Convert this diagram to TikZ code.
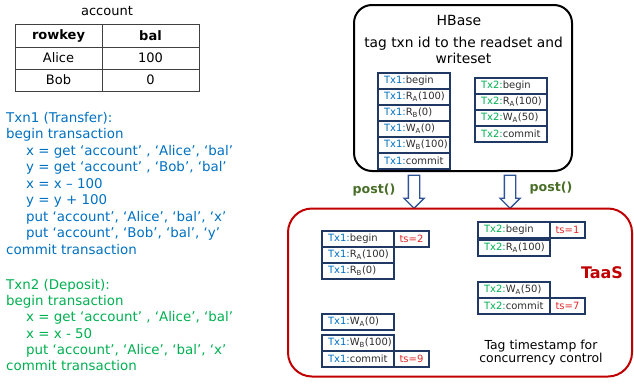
\documentclass[tikz,border=0pt]{standalone}
\usepackage{fontspec}
\setmainfont{DejaVu Sans}
\usetikzlibrary{positioning,shapes.arrows}

\definecolor{txnblue}{RGB}{0,112,192}
\definecolor{txngreen}{RGB}{0,176,80}
\definecolor{boxnavy}{RGB}{31,56,100}
\definecolor{tsred}{RGB}{224,40,40}
\definecolor{taasred}{RGB}{192,0,0}
\definecolor{postgreen}{RGB}{72,110,40}
\definecolor{arrowblue}{RGB}{47,85,151}
\definecolor{opgray}{RGB}{45,45,45}

\newcommand{\txa}{\textcolor{txnblue}{Tx1:}}
\newcommand{\txb}{\textcolor{txngreen}{Tx2:}}

\tikzset{
  cell/.style={draw=black!75, line width=0.8pt, inner sep=0, outer sep=0, font=\fontsize{13}{15}\selectfont},
  op/.style={draw=boxnavy, line width=1.3pt, inner xsep=6, inner ysep=0, outer sep=0, text width=60,
    minimum height=16, align=left, text=opgray, font=\fontsize{10}{11}\selectfont},
  ts/.style={draw=boxnavy, line width=1.3pt, inner sep=0, outer sep=0, minimum width=35,
    minimum height=16, text=tsred, font=\fontsize{10}{11}\selectfont},
  code/.style={anchor=north west, inner sep=0, align=left},
  post/.style={single arrow, draw=arrowblue, fill=white, line width=1.3pt, inner xsep=0, inner ysep=5,
    minimum height=33, single arrow head extend=4.5, rotate=-90},
  postlabel/.style={text=postgreen, font=\fontsize{12.6}{14}\selectfont\bfseries}
}

\begin{document}
\begin{tikzpicture}[x=1pt,y=-1pt]
  \useasboundingbox (0,0) rectangle (634,383);

  % table
  \node [font=\fontsize{13}{15}\selectfont] (tablename) at (107,11) {account};
  \node [cell, minimum width=87, minimum height=23] (keyhead) at (58.5,35.5) {\textbf{rowkey}};
  \node [cell, minimum width=97, minimum height=23] (balhead) at (150.5,35.5) {\textbf{bal}};
  \node [cell, minimum width=87, minimum height=22] (keyalice) at (58.5,58) {Alice};
  \node [cell, minimum width=97, minimum height=22] (balalice) at (150.5,58) {100};
  \node [cell, minimum width=87, minimum height=22] (keybob) at (58.5,80) {Bob};
  \node [cell, minimum width=97, minimum height=22] (balbob) at (150.5,80) {0};

  % transactions
  \node [code, text=txnblue, font=\fontsize{13.4}{16.5}\selectfont] (txnone) at (6,111.8) {%
    Txn1 (Transfer):\\
    begin transaction\\
    \hspace*{20pt}x = get ‘account’ , ‘Alice’, ‘bal’\\
    \hspace*{20pt}y = get ‘account’ , ‘Bob’, ‘bal’\\
    \hspace*{20pt}x = x – 100\\
    \hspace*{20pt}y = y + 100\\
    \hspace*{20pt}put ‘account’, ‘Alice’, ‘bal’, ‘x’\\
    \hspace*{20pt}put ‘account’, ‘Bob’, ‘bal’, ‘y’\\
    commit transaction};
  \node [code, text=txngreen, font=\fontsize{13.4}{16.3}\selectfont] (txntwo) at (6,278.8) {%
    Txn2 (Deposit):\\
    begin transaction\\
    \hspace*{20pt}x = get ‘account’ , ‘Alice’, ‘bal’\\
    \hspace*{20pt}x = x - 50\\
    \hspace*{20pt}put ‘account’, ‘Alice’, ‘bal’, ‘x’\\
    commit transaction};

  % HBase
  \node [draw, line width=2pt, rounded corners=18, minimum width=218, minimum height=166, inner sep=0] (hbase) at (463,88) {};
  \node [font=\fontsize{14}{16}\selectfont] (hbasetitle) at (459,20.5) {HBase};
  \node [align=center, font=\fontsize{13.8}{15.5}\selectfont] (hbasenote) at (463.5,50.5) {tag txn id to the readset and\\writeset};

  \node [op, anchor=north west] (hbegina) at (378,73) {\txa begin};
  \node [op, below=0pt of hbegina] (hra) {\txa R\textsubscript{A}(100)};
  \node [op, below=0pt of hra] (hrb) {\txa R\textsubscript{B}(0)};
  \node [op, below=0pt of hrb] (hwa) {\txa W\textsubscript{A}(0)};
  \node [op, below=0pt of hwa] (hwb) {\txa W\textsubscript{B}(100)};
  \node [op, below=0pt of hwb] (hcommita) {\txa commit};

  \node [op, anchor=north west] (hbeginb) at (475,78) {\txb begin};
  \node [op, below=0pt of hbeginb] (hrab) {\txb R\textsubscript{A}(100)};
  \node [op, below=0pt of hrab] (hwab) {\txb W\textsubscript{A}(50)};
  \node [op, below=0pt of hwab] (hcommitb) {\txb commit};

  % post
  \node [post] (postone) at (414,189) {};
  \node [post] (posttwo) at (510,189) {};
  \node [postlabel] (postonelabel) at (374,190) {post()};
  \node [postlabel] (posttwolabel) at (551,188) {post()};

  % TaaS
  \node [draw=taasred, line width=2pt, rounded corners=24, minimum width=344, minimum height=168, inner sep=0] (taas) at (460,292.5) {};
  \node [text=taasred, font=\fontsize{16}{18}\selectfont\bfseries] (taaslabel) at (602,273) {TaaS};
  \node [align=center, font=\fontsize{12.4}{13.5}\selectfont] (taasnote) at (541,352.5) {Tag timestamp for\\concurrency control};

  \node [op, anchor=north west] (tbegina) at (322,231) {\txa begin};
  \node [ts, right=0pt of tbegina] (tsbegina) {ts=2};
  \node [op, below=0pt of tbegina] (tra) {\txa R\textsubscript{A}(100)};
  \node [op, below=0pt of tra] (trb) {\txa R\textsubscript{B}(0)};
  \node [op, anchor=north west] (twa) at (322,314) {\txa W\textsubscript{A}(0)};
  \node [op, anchor=north west] (twb) at (322,335) {\txa W\textsubscript{B}(100)};
  \node [op, below=0pt of twb] (tcommita) {\txa commit};
  \node [ts, right=0pt of tcommita] (tscommita) {ts=9};

  \node [op, anchor=north west] (tbeginb) at (478,222) {\txb begin};
  \node [ts, right=0pt of tbeginb] (tsbeginb) {ts=1};
  \node [op, anchor=north west] (trab) at (478,240) {\txb R\textsubscript{A}(100)};
  \node [op, anchor=north west] (twab) at (478,282) {\txb W\textsubscript{A}(50)};
  \node [op, below=0pt of twab] (tcommitb) {\txb commit};
  \node [ts, right=0pt of tcommitb] (tscommitb) {ts=7};
\end{tikzpicture}
\end{document}
